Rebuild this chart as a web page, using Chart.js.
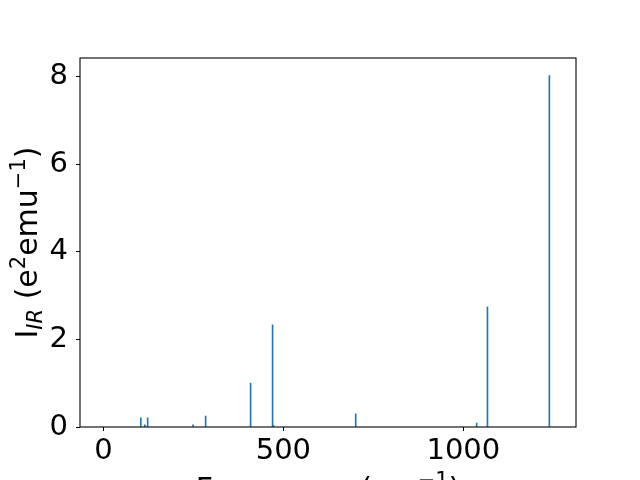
<!DOCTYPE html>
<html>
<head>
<meta charset="utf-8">
<script src="https://cdn.jsdelivr.net/npm/chart.js@4"></script>
<style>
  html, body { margin: 0; padding: 0; background: #fff; }
  #wrap { width: 640px; height: 480px; }
</style>
</head>
<body>
<div id="wrap"><canvas id="irChart" width="640" height="480"></canvas></div>
<script>
// --------- Data ----------
const freqs = [104, 115, 123, 249, 284, 409, 470, 473, 701, 1037, 1067, 1239];
const intensities = [0.21, 0.05, 0.21, 0.05, 0.25, 1.0, 2.33, 0.03, 0.3, 0.09, 2.74, 8.02];
const xTicks = [0, 500, 1000];
const yTicks = [0, 2, 4, 6, 8];

const points = freqs.map((f, i) => ({ x: f, y: intensities[i] }));

const FONT = "'DejaVu Sans', sans-serif";

// draw a run of text pieces (normal / sub / sup), centred on 0
function drawRich(ctx, parts) {
  let total = 0;
  parts.forEach((p) => {
    ctx.font = (p.italic ? "italic " : "") + p.size + "px " + FONT;
    p.w = ctx.measureText(p.text).width;
    total += p.w;
  });
  let x = -total / 2;
  ctx.textBaseline = "alphabetic";
  ctx.textAlign = "left";
  parts.forEach((p) => {
    ctx.font = (p.italic ? "italic " : "") + p.size + "px " + FONT;
    ctx.fillText(p.text, x, p.dy || 0);
    x += p.w;
  });
}

const framePlugin = {
  id: "frame",
  afterDraw(chart) {
    const { ctx, chartArea: a } = chart;
    ctx.save();
    ctx.strokeStyle = "#000";
    ctx.lineWidth = 1.1;
    ctx.strokeRect(a.left, a.top, a.right - a.left, a.bottom - a.top);
    ctx.fillStyle = "#000";

    // y axis title
    ctx.save();
    ctx.translate(37, (a.top + a.bottom) / 2);
    ctx.rotate(-Math.PI / 2);
    drawRich(ctx, [
      { text: "I", size: 30 },
      { text: "IR", size: 21, italic: true, dy: 5 },
      { text: " (e", size: 30 },
      { text: "2", size: 21, dy: -12 },
      { text: "emu", size: 30 },
      { text: "\u22121", size: 21, dy: -12 },
      { text: ")", size: 30 },
    ]);
    ctx.restore();

    // x axis title (mostly below the canvas edge)
    ctx.save();
    ctx.translate((a.left + a.right) / 2, 499);
    drawRich(ctx, [
      { text: "Frequency (cm", size: 30 },
      { text: "\u22121", size: 21, dy: -12 },
      { text: ")", size: 30 },
    ]);
    ctx.restore();
    ctx.restore();
  },
};

const irChart = new Chart(document.getElementById("irChart"), {
  type: "bar",
  data: {
    datasets: [
      {
        data: points,
        backgroundColor: "#1f77b4",
        borderWidth: 0,
        barThickness: 1,
      },
    ],
  },
  options: {
    responsive: false,
    animation: false,
    layout: { padding: { top: 58, right: 64, left: 0, bottom: 0 } },
    plugins: { legend: { display: false }, tooltip: { enabled: false } },
    scales: {
      x: {
        type: "linear",
        min: -65,
        max: 1313,
        offset: false,
        border: { display: false },
        grid: { offset: false, drawOnChartArea: false, drawTicks: true, tickLength: 4, color: "#000", lineWidth: 1 },
        ticks: {
          color: "#000",
          font: { family: FONT, size: 29 },
          padding: 3,
          maxRotation: 0,
          callback: (v) => String(v),
        },
        afterBuildTicks(scale) {
          scale.ticks = xTicks.map((v) => ({ value: v }));
        },
        afterFit(scale) {
          scale.height = 53;
        },
      },
      y: {
        min: 0,
        max: 8.42,
        border: { display: false },
        grid: { drawOnChartArea: false, drawTicks: true, tickLength: 4, color: "#000", lineWidth: 1 },
        ticks: { color: "#000", font: { family: FONT, size: 29 }, padding: 8, callback: (v) => String(v) },
        afterBuildTicks(scale) {
          scale.ticks = yTicks.map((v) => ({ value: v }));
        },
        afterFit(scale) {
          scale.width = 80;
        },
      },
    },
  },
  plugins: [framePlugin],
});
</script>
</body>
</html>
